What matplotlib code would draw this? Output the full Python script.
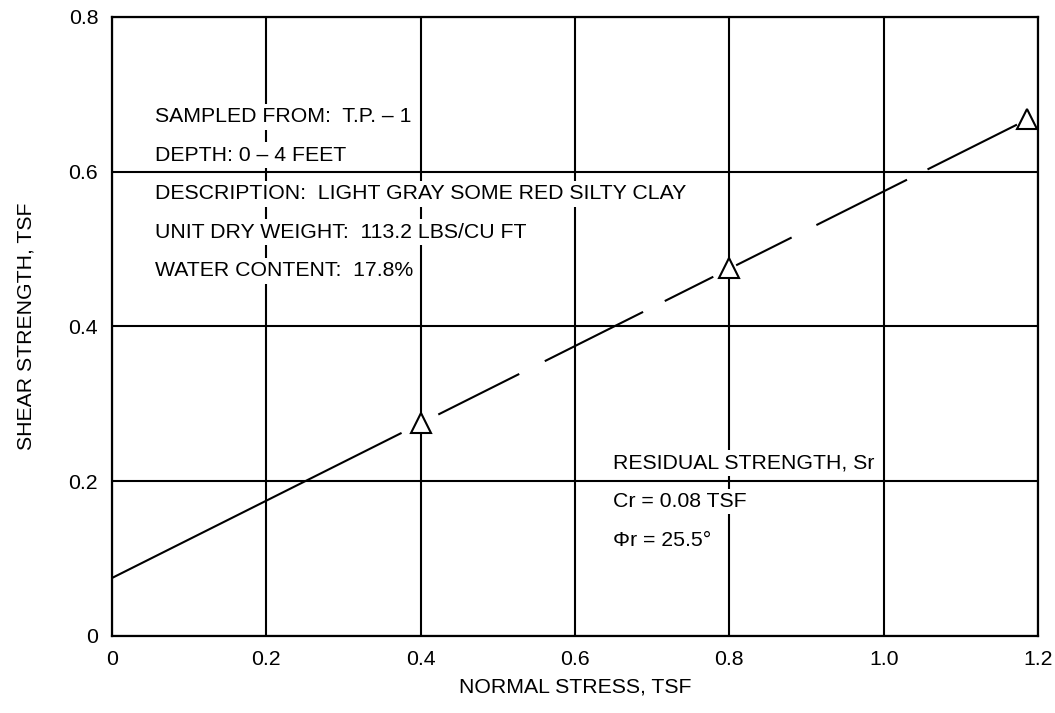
import numpy as np
import matplotlib
matplotlib.use('Agg')
import matplotlib.pyplot as plt

plt.rcParams['font.family'] = ['Liberation Sans', 'DejaVu Sans']

# Test points (normal stress, shear strength), TSF
normal_stress = [0.40, 0.80, 1.186]
shear_strength = [0.275, 0.476, 0.6675]

# Fitted residual strength line: y = c + slope * x
intercept = 0.075
slope = 0.4996

# Pieces of the fitted line as drawn (start, end) along normal stress
line_pieces = [(0.0, 0.374), (0.424, 0.5265), (0.562, 0.687), (0.7175, 0.778),
               (0.810, 0.8795), (0.914, 1.029), (1.058, 1.1715)]

x_ticks = [0, 0.2, 0.4, 0.6, 0.8, 1.0, 1.2]
x_tick_labels = ['0', '0.2', '0.4', '0.6', '0.8', '1.0', '1.2']
y_ticks = [0, 0.2, 0.4, 0.6, 0.8]
y_tick_labels = ['0', '0.2', '0.4', '0.6', '0.8']

sample_info = ['SAMPLED FROM:  T.P. \u2013 1',
               'DEPTH: 0 \u2013 4 FEET',
               'DESCRIPTION:  LIGHT GRAY SOME RED SILTY CLAY',
               'UNIT DRY WEIGHT:  113.2 LBS/CU FT',
               'WATER CONTENT:  17.8%']
strength_info = ['RESIDUAL STRENGTH, Sr',
                 'Cr = 0.08 TSF',
                 '\u03a6r = 25.5\u00b0']

fs = 15.3

fig = plt.figure(figsize=(10.55, 7.13), dpi=100)
ax = fig.add_axes([0.1062, 0.108, 0.8777, 0.8682])

ax.set_xlim(0, 1.2)
ax.set_ylim(0, 0.8)
ax.set_xticks(x_ticks)
ax.set_xticklabels(x_tick_labels)
ax.set_yticks(y_ticks)
ax.set_yticklabels(y_tick_labels)
ax.tick_params(length=0, labelsize=fs, pad=10)
ax.grid(True, color='black', linewidth=1.5, zorder=0.5)
ax.set_axisbelow(True)
for sp in ax.spines.values():
    sp.set_linewidth(1.6)

# fitted line, broken into pieces
for x0, x1 in line_pieces:
    xs = np.array([x0, x1])
    ax.plot(xs, intercept + slope * xs, color='black', lw=1.5, zorder=2)

# test points
ax.plot(normal_stress, shear_strength, linestyle='none', marker='^',
        markersize=14, markerfacecolor='white', markeredgecolor='black',
        markeredgewidth=1.5, zorder=4, clip_on=False)

box = dict(facecolor='white', edgecolor='none', pad=2.5)
for i, s in enumerate(sample_info):
    ax.text(0.0557, 0.671 - i * 0.0497, s, fontsize=fs, va='center',
            ha='left', bbox=box, zorder=3)
for i, s in enumerate(strength_info):
    ax.text(0.6496, 0.224 - i * 0.0503, s, fontsize=fs, va='center',
            ha='left', bbox=box, zorder=3)

ax.set_xlabel('NORMAL STRESS, TSF', fontsize=fs, labelpad=6)
ax.set_ylabel('SHEAR STRENGTH, TSF', fontsize=fs, labelpad=24)

fig.savefig('out.png', dpi=100)
